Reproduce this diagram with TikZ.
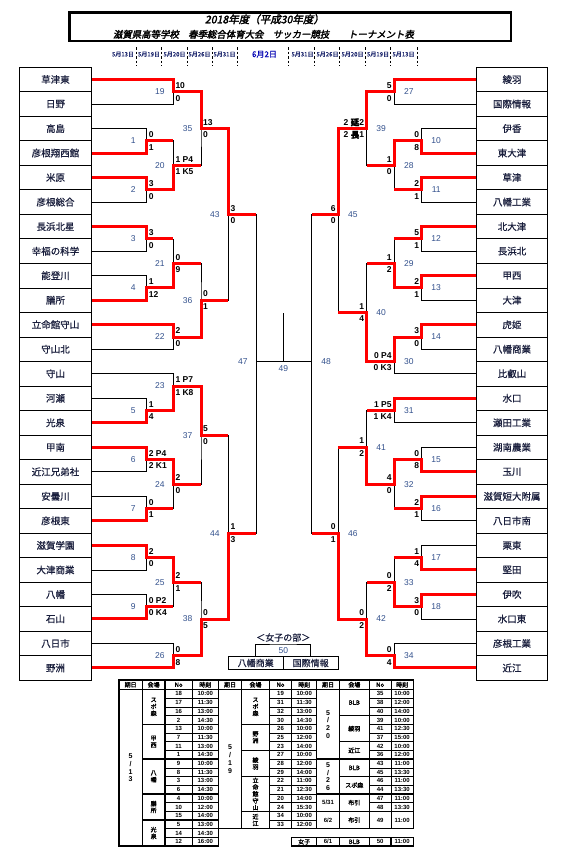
\documentclass[tikz,border=0pt]{standalone}
\usepackage{fontspec}
\setmainfont{Liberation Sans}
\newfontfamily\jp{Noto Sans CJK JP}[FakeBold=0.6]
\newfontfamily\jpb{Noto Sans CJK JP}[FakeBold=2]
\newfontfamily\jpti{Noto Sans CJK JP}[FakeBold=2.5,FakeSlant=0.2]
\definecolor{numblue}{RGB}{50,80,140}
\definecolor{datenavy}{RGB}{30,40,110}
\definecolor{teamink}{RGB}{25,30,60}
\definecolor{winred}{RGB}{255,0,0}

\begin{document}
\begin{tikzpicture}[x=1pt, y=-1pt]
    % Styles
    \tikzstyle{team} = [rectangle, draw, line width=0.8pt, minimum height=24.5pt,
        inner sep=0pt, text=teamink, font=\fontsize{9.5pt}{11pt}\jp]
    \tikzstyle{wteam} = [rectangle, draw, line width=0.8pt, minimum width=54.7pt,
        minimum height=12.6pt, inner sep=0pt, text=teamink, font=\fontsize{9pt}{10pt}\jp]
    \tikzstyle{bline} = [line width=0.8pt]
    \tikzstyle{redline} = [line width=3pt, winred]
    \tikzstyle{lnum} = [inner sep=0pt, text=numblue, font=\fontsize{8.5pt}{10pt}\selectfont, xshift=-13.5pt]
    \tikzstyle{rnum} = [inner sep=0pt, text=numblue, font=\fontsize{8.5pt}{10pt}\selectfont, xshift=14.5pt]
    \tikzstyle{lsct} = [anchor=west, inner sep=0.5pt, font=\fontsize{8.5pt}{10pt}\selectfont\bfseries, xshift=1.5pt, yshift=6.3pt]
    \tikzstyle{lscb} = [anchor=west, inner sep=0.5pt, font=\fontsize{8.5pt}{10pt}\selectfont\bfseries, xshift=1.5pt, yshift=-6.3pt]
    \tikzstyle{rsct} = [anchor=east, inner sep=0.5pt, font=\fontsize{8.5pt}{10pt}\selectfont\bfseries, xshift=-2pt, yshift=6.3pt]
    \tikzstyle{rscb} = [anchor=east, inner sep=0.5pt, font=\fontsize{8.5pt}{10pt}\selectfont\bfseries, xshift=-2pt, yshift=-6.3pt]
    \tikzstyle{dlabel} = [inner sep=0pt, text=datenavy, font=\fontsize{6pt}{7pt}\jp]
    \tikzstyle{sep} = [line width=0.6pt, dash pattern=on 2.5pt off 2pt]
    \tikzstyle{tthick} = [line width=1.4pt]
    \tikzstyle{tthin} = [line width=0.5pt]
    \tikzstyle{tcell} = [inner sep=0pt, font=\fontsize{6pt}{7pt}\selectfont\bfseries]
    \tikzstyle{tjp} = [inner sep=0pt, align=center, font=\fontsize{6pt}{6.8pt}\jpb]

    \useasboundingbox (0,0) rectangle (563,862);

    % === TITLE ===
    \node [draw, line width=2.5pt, minimum width=441.5pt, minimum height=28.9pt, inner sep=0pt] (titlebox) at (290.3,26.7) {};
    \node [font=\fontsize{10.5pt}{12pt}\jpti] (title1) at (264.5,19.3) {2018年度（平成30年度）};
    \node [font=\fontsize{9.4pt}{12pt}\jpti] (title2) at (263.5,34.3) {滋賀県高等学校　春季総合体育大会　サッカー競技　　トーナメント表};

    % === DATES ===
    \foreach \x/\d [count=\c] in {123/5月13日, 149/5月19日, 174.5/5月20日, 199.5/5月26日, 224.5/5月31日,
        302.5/5月31日, 327.5/5月26日, 352.5/5月20日, 378/5月19日, 403.5/5月13日}
        \node [dlabel] (d\c) at (\x,54.3) {\d};
    \node [dlabel, font=\fontsize{8pt}{9pt}\jp, text=blue!70!black] (final) at (264.5,54.3) {6月2日};
    \foreach \x in {136,161.7,187.3,212.3,237.7,288.7,314,339.7,365,390.7,417}
        \draw [sep] (\x,47) -- (\x,66);

    % === TEAMS ===
    \foreach \name [count=\i from 0] in {草津東, 日野, 高島, 彦根翔西館, 米原, 彦根総合, 長浜北星, 幸福の科学,
        能登川, 膳所, 立命館守山, 守山北, 守山, 河瀬, 光泉, 甲南, 近江兄弟社, 安曇川, 彦根東,
        滋賀学園, 大津商業, 八幡, 石山, 八日市, 野洲}
        \node [team, minimum width=72.4pt] (L\i) at (55.5,{79.5+24.52*\i}) {\name};
    \foreach \name [count=\i from 0] in {綾羽, 国際情報, 伊香, 東大津, 草津, 八幡工業, 北大津, 長浜北,
        甲西, 大津, 虎姫, 八幡商業, 比叡山, 水口, 瀬田工業, 湖南農業, 玉川, 滋賀短大附属, 八日市南,
        栗東, 堅田, 伊吹, 水口東, 彦根工業, 近江}
        \node [team, minimum width=70.6pt] (R\i) at (512,{79.5+24.52*\i}) {\name};

    % === MATCH POINTS ===
    \foreach \n/\x/\k in {19/173.3/2, 1/146.7/6, 2/146.7/10, 20/173.3/8, 35/201/5, 3/146.7/14,
        4/146.7/18, 21/173.3/16, 22/173.3/22, 36/201/19, 43/228.3/12, 5/146.7/28, 23/173.3/26,
        6/146.7/32, 7/146.7/36, 24/173.3/34, 37/201/30, 8/146.7/40, 9/146.7/44, 25/173.3/42,
        26/173.3/48, 38/201/45, 44/228.3/38, 47/256.3/24,
        27/394.3/2, 10/421.7/6, 11/421.7/10, 28/394.3/8, 39/366.7/5, 12/421.7/14, 13/421.7/18,
        29/394.3/16, 14/421.7/22, 30/394.3/24, 40/366.7/20, 45/338.3/12, 31/394.3/28, 15/421.7/32,
        16/421.7/36, 32/394.3/34, 41/366.7/31, 17/421.7/40, 18/421.7/44, 33/394.3/42, 34/394.3/48,
        42/366.7/45, 46/338.3/38, 48/311.7/24}
        \coordinate (m\n) at (\x,{67.3+12.26*\k});
    \coordinate (m49) at (283.3,{67.3+12.26*24});
    \coordinate (f49) at (283.3,313.3);

    % === BRACKETS ===
    \foreach \a/\m/\b in {L0.east/m19/L1.east, L2.east/m1/L3.east, L4.east/m2/L5.east, m1/m20/m2,
        m19/m35/m20, L6.east/m3/L7.east, L8.east/m4/L9.east, m3/m21/m4, L10.east/m22/L11.east,
        m21/m36/m22, m35/m43/m36, L13.east/m5/L14.east, L12.east/m23/m5, L15.east/m6/L16.east,
        L17.east/m7/L18.east, m6/m24/m7, m23/m37/m24, L19.east/m8/L20.east, L21.east/m9/L22.east,
        m8/m25/m9, L23.east/m26/L24.east, m25/m38/m26, m37/m44/m38, m43/m47/m44,
        R0.west/m27/R1.west, R2.west/m10/R3.west, R4.west/m11/R5.west, m10/m28/m11,
        m27/m39/m28, R6.west/m12/R7.west, R8.west/m13/R9.west, m12/m29/m13, R10.west/m14/R11.west,
        m14/m30/R12.west, m29/m40/m30, m39/m45/m40, R13.west/m31/R14.west, R15.west/m15/R16.west,
        R17.west/m16/R18.west, m15/m32/m16, m31/m41/m32, R19.west/m17/R20.west,
        R21.west/m18/R22.west, m17/m33/m18, R23.west/m34/R24.west, m33/m42/m34, m41/m46/m42,
        m45/m48/m46}
        \draw [bline] (\a) -| (\m) |- (\b);
    \draw [bline] (m47) -- (m48);
    \draw [bline] (f49) -- (m49);

    % === WINNERS ===
    \draw [redline] (L0.east) -| (m19) -| (m35) -| (m43) -- (m43 -| m47);
    \draw [redline] (L3.east) -| (m1) -- (m1 -| m20);
    \draw [redline] (L4.east) -| (m2) -| (m20) -- (m20 -| m35);
    \draw [redline] (L6.east) -| (m3) -- (m3 -| m21);
    \draw [redline] (L9.east) -| (m4) -| (m21) -- (m21 -| m36);
    \draw [redline] (L10.east) -| (m22) -| (m36) -- (m36 -| m43);
    \draw [redline] (L14.east) -| (m5) -| (m23) -| (m37) -- (m37 -| m44);
    \draw [redline] (L15.east) -| (m6) -| (m24) -- (m24 -| m37);
    \draw [redline] (L18.east) -| (m7) -- (m7 -| m24);
    \draw [redline] (L19.east) -| (m8) -| (m25) -- (m25 -| m38);
    \draw [redline] (L22.east) -| (m9) -- (m9 -| m25);
    \draw [redline] (L24.east) -| (m26) -| (m38) -| (m44) -- (m44 -| m47);
    \draw [redline] (R0.west) -| (m27) -| (m39) -| (m45) -- (m45 -| m48);
    \draw [redline] (R3.west) -| (m10) -| (m28) -- (m28 -| m39);
    \draw [redline] (R4.west) -| (m11) -- (m11 -| m28);
    \draw [redline] (R6.west) -| (m12) -- (m12 -| m29);
    \draw [redline] (R8.west) -| (m13) -| (m29) -- (m29 -| m40);
    \draw [redline] (R10.west) -| (m14) -| (m30) -| (m40) -- (m40 -| m45);
    \draw [redline] (R13.west) -| (m31) -- (m31 -| m41);
    \draw [redline] (R16.west) -| (m15) -| (m32) -| (m41) -- (m41 -| m46);
    \draw [redline] (R17.west) -| (m16) -- (m16 -| m32);
    \draw [redline] (R20.west) -| (m17) -- (m17 -| m33);
    \draw [redline] (R21.west) -| (m18) -| (m33) -- (m33 -| m42);
    \draw [redline] (R24.west) -| (m34) -| (m42) -| (m46) -- (m46 -| m48);

    % === NUMBERS AND SCORES ===
    \foreach \n/\t/\b in {19/10/0, 1/0/1, 2/3/0, 20/1 P4/1 K5, 35/13/0, 3/3/0, 4/1/12, 21/0/9,
        22/2/0, 36/0/1, 43/3/0, 5/1/4, 23/1 P7/1 K8, 6/2 P4/2 K1, 7/0/1, 24/2/0, 37/5/0, 8/2/0,
        9/0 P2/0 K4, 25/2/1, 26/0/8, 38/0/5, 44/1/3}{
        \node [lnum] (n\n) at (m\n) {\n};
        \node [lsct] (st\n) at (m\n) {\t};
        \node [lscb] (sb\n) at (m\n) {\b};
    }
    \foreach \n/\t/\b in {27/5/0, 10/0/8, 11/2/1, 28/1/0, 39/2 {\jpb 延}2/2 {\jpb 長}1, 12/5/1, 13/2/1,
        29/1/2, 14/3/0, 30/0 P4/0 K3, 40/1/4, 45/6/0, 31/1 P5/1 K4, 15/0/8, 16/2/1, 32/4/0,
        41/1/2, 17/1/4, 18/3/0, 33/0/2, 34/0/4, 42/0/2, 46/0/1}{
        \node [rnum] (n\n) at (m\n) {\n};
        \node [rsct] (st\n) at (m\n) {\t};
        \node [rscb] (sb\n) at (m\n) {\b};
    }
    \node [lnum] (n47) at (m47) {47};
    \node [rnum] (n48) at (m48) {48};
    \node [lnum, xshift=13.5pt, yshift=-7pt] (n49) at (m49) {49};

    % === WOMEN ===
    \node [font=\fontsize{9pt}{10pt}\jp, text=teamink] (wtitle) at (283.3,637.5) {＜女子の部＞};
    \coordinate (m50) at (283.3,644);
    \node [wteam] (W1) at (255.7,663) {八幡商業};
    \node [wteam] (W2) at (310.7,663) {国際情報};
    \draw [bline] (W1.north) |- (m50) -| (W2.north);
    \node [lnum, xshift=13.5pt, yshift=-6.5pt] (n50) at (m50) {50};

    % === SCHEDULE TABLE ===
    \draw [tthick] (119,680) rectangle (218.3,846.1);
    \draw [tthick] (218.3,680) rectangle (413.3,828.7);
    \draw [tthick] (119,689.5) -- (413.3,689.5);
    \foreach \x in {142.3,165,241.7,269.3,339.3,369.3}
        \draw [tthick] (\x,680) -- (\x,{\x<220 ? 846.1 : 828.7});
    \draw [tthick] (316.7,680) -- (316.7,828.7);
    \draw [tthin] (192.3,680) -- (192.3,846.1);
    \draw [tthin] (291.7,680) -- (291.7,828.7);
    \draw [tthin] (391,680) -- (391,828.7);
    \foreach \r in {1,2,3,5,6,7,9,10,11,13,14,16,17}
        \draw [tthin] (165,{689.5+8.7*\r}) -- (218.3,{689.5+8.7*\r});
    \foreach \r in {4,8,12,15}
        \draw [tthick] (142.3,{689.5+8.7*\r}) -- (218.3,{689.5+8.7*\r});
    \foreach \r in {1,2,3,5,6,8,9,11,12,13,15}
        \draw [tthin] (269.3,{689.5+8.7*\r}) -- (316.7,{689.5+8.7*\r});
    \foreach \r in {4,7,10,14}
        \draw [tthick] (241.7,{689.5+8.7*\r}) -- (316.7,{689.5+8.7*\r});
    \foreach \r in {1,2,4,5,7,9,11,13}
        \draw [tthin] (369.3,{689.5+8.7*\r}) -- (413.3,{689.5+8.7*\r});
    \foreach \r in {3,6,10}
        \draw [tthick] (339.3,{689.5+8.7*\r}) -- (413.3,{689.5+8.7*\r});
    \foreach \r in {8,12,14}
        \draw [tthick] (316.7,{689.5+8.7*\r}) -- (413.3,{689.5+8.7*\r});
    % women row
    \draw [tthick] (291.7,837.4) rectangle (413.3,846.1);
    \foreach \x in {316.7,339.3,369.3,391}
        \draw [tthick] (\x,837.4) -- (\x,846.1);

    % header
    \foreach \x/\t [count=\c] in {130.65/期日, 153.65/会場, 178.65/No, 205.3/時刻, 230/期日, 255.5/会場,
        280.5/No, 304.2/時刻, 328/期日, 354.3/会場, 380.15/No, 402.15/時刻}
        \node [tjp] (h\c) at (\x,684.75) {\t};
    % rows
    \foreach \no/\tm [count=\r from 0] in {18/10:00, 17/11:30, 16/13:00, 2/14:30, 13/10:00, 7/11:30,
        11/13:00, 1/14:30, 9/10:00, 8/11:30, 3/13:00, 6/14:30, 4/10:00, 10/12:00, 15/14:00,
        5/13:00, 14/14:30, 12/16:00}{
        \node [tcell] (na\r) at (178.65,{693.85+8.7*\r}) {\no};
        \node [tcell] (ta\r) at (205.3,{693.85+8.7*\r}) {\tm};
    }
    \foreach \no/\tm [count=\r from 0] in {19/10:00, 31/11:30, 32/13:00, 30/14:30, 26/10:00, 25/12:00,
        23/14:00, 27/10:00, 28/12:00, 29/14:00, 22/11:00, 21/12:30, 20/14:00, 24/15:30,
        34/10:00, 33/12:00}{
        \node [tcell] (nb\r) at (280.5,{693.85+8.7*\r}) {\no};
        \node [tcell] (tb\r) at (304.2,{693.85+8.7*\r}) {\tm};
    }
    \foreach \no/\tm [count=\r from 0] in {35/10:00, 38/12:00, 40/14:00, 39/10:00, 41/12:30, 37/15:00,
        42/10:00, 36/12:00, 43/11:00, 45/13:30, 46/11:00, 44/13:30, 47/11:00, 48/13:30}{
        \node [tcell] (nc\r) at (380.15,{693.85+8.7*\r}) {\no};
        \node [tcell] (tc\r) at (402.15,{693.85+8.7*\r}) {\tm};
    }
    \node [tcell] (nc14) at (380.15,820) {49};
    \node [tcell] (tc14) at (402.15,820) {11:00};
    % dates and venues
    \node [tcell, align=center, font=\fontsize{7pt}{7.7pt}\selectfont\bfseries] (da) at (130.65,767.8) {5\\/\\1\\3};
    \node [tcell, align=center, font=\fontsize{7pt}{7.7pt}\selectfont\bfseries] (db) at (230,759.1) {5\\/\\1\\9};
    \node [tcell, align=center, font=\fontsize{7pt}{7.7pt}\selectfont\bfseries] (dc1) at (328,724.3) {5\\/\\2\\0};
    \node [tcell, align=center, font=\fontsize{7pt}{7.7pt}\selectfont\bfseries] (dc2) at (328,776.5) {5\\/\\2\\6};
    \node [tcell] (dc3) at (328,802.6) {5/31};
    \node [tcell] (dc4) at (328,820) {6/2};
    \foreach \x/\y/\v [count=\c] in {153.65/706.9/ス\\ポ\\森, 153.65/741.7/甲\\西, 153.65/776.5/八\\幡,
        153.65/807/膳\\所, 153.65/833.05/光\\泉, 255.5/706.9/ス\\ポ\\森, 255.5/737.35/野\\洲,
        255.5/763.45/綾\\羽, 255.5/793.9/立\\命\\館\\守\\山, 255.5/820/近\\江,
        354.3/702.55/BLB, 354.3/728.65/綾羽, 354.3/750.4/近江, 354.3/767.8/BLB,
        354.3/785.2/スポ森, 354.3/802.6/布引, 354.3/820/布引}
        \node [tjp] (v\c) at (\x,\y) {\v};
    % women row
    \node [tjp] (wz1) at (304.2,841.75) {女子};
    \node [tcell] (wz2) at (328,841.75) {6/1};
    \node [tjp] (wz3) at (354.3,841.75) {BLB};
    \node [tcell] (wz4) at (380.15,841.75) {50};
    \node [tcell] (wz5) at (402.15,841.75) {11:00};
\end{tikzpicture}
\end{document}
